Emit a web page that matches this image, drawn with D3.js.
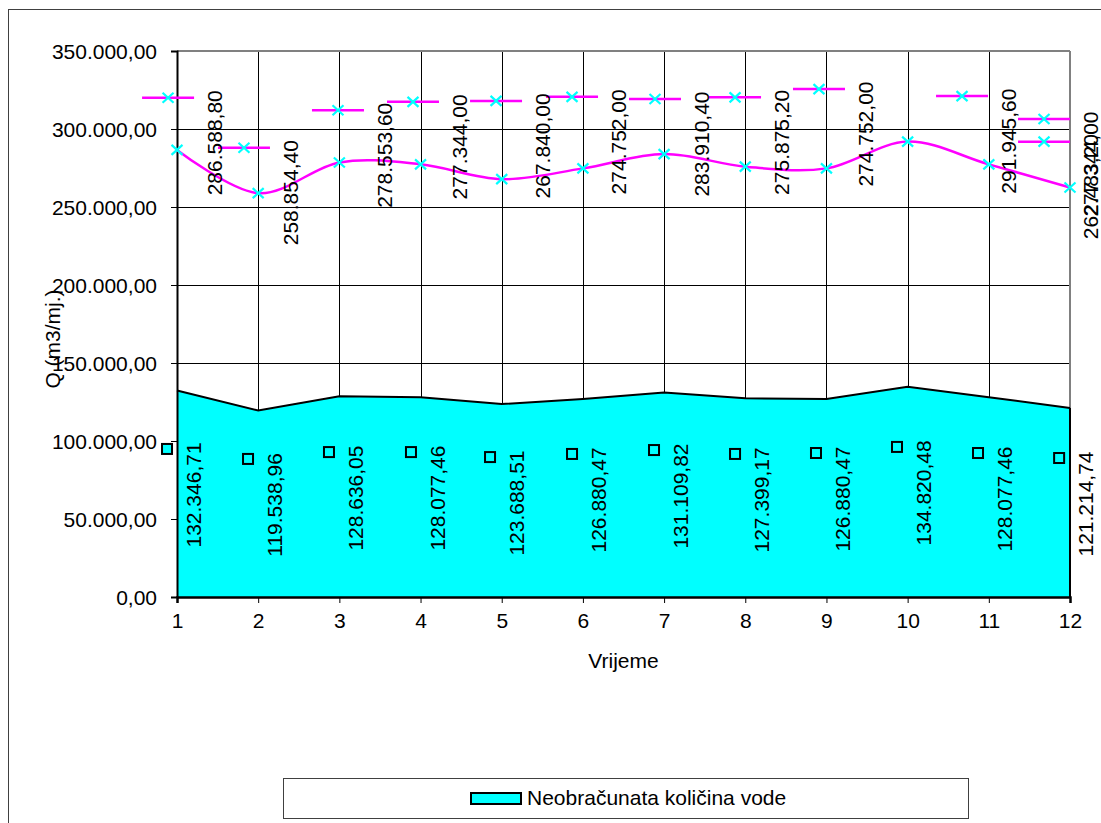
<!DOCTYPE html>
<html><head><meta charset="utf-8">
<script src="https://cdn.jsdelivr.net/npm/d3@7"></script>
<style>
html,body{margin:0;padding:0;background:#fff;}
text{font-family:"Liberation Sans",Arial,sans-serif;}
</style>
</head><body>
<svg id="chart" width="1101" height="823"></svg>
<script>
// ---- data ----
const categories = [1,2,3,4,5,6,7,8,9,10,11,12];
const yTickValues = [0,50000,100000,150000,200000,250000,300000,350000];
// area series: Neobračunata količina vode
const areaValues = [132346.71,119538.96,128636.05,128077.46,123688.51,126880.47,131109.82,127399.17,126880.47,134820.48,128077.46,121214.74];
// smoothed line series (magenta, cyan x markers)
const lineValues = [286588.80,258854.40,278553.60,277344.00,267840.00,274752.00,283910.40,275875.20,274752.00,291945.60,277344.00,262483.20];
// short horizontal dash series (category position, value)
const dashX = [0.89,1.825,2.983,3.907,4.93,5.866,6.888,7.874,8.908,10.67,11.68,11.68];
const dashValues = [320000,288000,312000,317400,318000,320600,319200,320300,325600,321100,306400,291900];
// square markers (category position, value)
const squareX = [0.877,1.875,2.872,3.882,4.856,5.866,6.876,7.874,8.871,9.869,10.867,11.866];
const squareValues = [94900,88500,92900,92900,89700,91700,94200,91700,92300,96200,92300,89100];
const legendLabel = "Neobračunata količina vode";
const xTitle = "Vrijeme";
const yTitle = "Q (m3/mj.)";

// ---- formatting ----
const fmtLocale = d3.formatLocale({decimal:",",thousands:".",grouping:[3],currency:["",""]});
const fmt = fmtLocale.format(",.2f");

const svg = d3.select("#chart");
const FONT = 21;
const x = d3.scaleLinear().domain([1,12]).range([177,1070]);
const y = d3.scaleLinear().domain([0,350000]).range([597,51]);

// outer chart frame
svg.append("rect").attr("x",8.5).attr("y",9.5).attr("width",1200).attr("height",1000)
  .attr("fill","none").attr("stroke","#404040").attr("stroke-width",1);

// gridlines
const g = svg.append("g");
g.selectAll("line.hg").data(yTickValues.slice(1,-1)).join("line")
  .attr("x1",x(1)).attr("x2",x(12)).attr("y1",d=>Math.round(y(d))+0.5).attr("y2",d=>Math.round(y(d))+0.5)
  .attr("stroke","#000").attr("stroke-width",1);
g.selectAll("line.vg").data(categories.slice(1,-1)).join("line")
  .attr("y1",y(350000)).attr("y2",y(0)).attr("x1",d=>Math.round(x(d))+0.5).attr("x2",d=>Math.round(x(d))+0.5)
  .attr("stroke","#000").attr("stroke-width",1);
// plot border top/right gray
svg.append("line").attr("x1",x(1)).attr("x2",x(12)).attr("y1",y(350000)).attr("y2",y(350000))
  .attr("stroke","#808080").attr("stroke-width",2);
svg.append("line").attr("x1",x(12)).attr("x2",x(12)).attr("y1",y(350000)).attr("y2",y(0))
  .attr("stroke","#808080").attr("stroke-width",2);

// area
const area = d3.area().x((d,i)=>x(categories[i])).y0(y(0)).y1(d=>y(d));
svg.append("path").datum(areaValues).attr("d",area).attr("fill","#00FFFF").attr("stroke","none");
svg.append("path").datum(areaValues)
  .attr("d",d3.line().x((d,i)=>x(categories[i])).y(d=>y(d)))
  .attr("fill","none").attr("stroke","#000").attr("stroke-width",2);
svg.append("line").attr("x1",x(12)).attr("x2",x(12)).attr("y1",y(areaValues[11])).attr("y2",y(0))
  .attr("stroke","#000").attr("stroke-width",2);

// axes
const yAxis = d3.axisLeft(y).tickValues(yTickValues).tickSize(6).tickFormat(d=>fmt(d));
const ya = svg.append("g").attr("transform",`translate(${x(1)},0)`).call(yAxis);
ya.select(".domain").attr("stroke","#000").attr("stroke-width",2);
ya.selectAll(".tick line").attr("stroke","#000");
ya.selectAll(".tick text").attr("font-size",FONT).attr("fill","#000").attr("x",-20).attr("dy","0.36em")
  .style("font-family","Liberation Sans, Arial, sans-serif");

const xAxis = d3.axisBottom(x).tickValues(categories).tickSize(6).tickFormat(d=>d);
const xa = svg.append("g").attr("transform",`translate(0,${y(0)})`).call(xAxis);
xa.select(".domain").attr("stroke","#000").attr("stroke-width",2.5);
xa.selectAll(".tick line").attr("stroke","#000");
xa.selectAll(".tick text").attr("font-size",FONT).attr("fill","#000").attr("y",16).attr("dy","0.71em")
  .style("font-family","Liberation Sans, Arial, sans-serif");

// square markers
svg.selectAll("rect.sq").data(squareValues).join("rect")
  .attr("x",(d,i)=>x(squareX[i])-5).attr("y",d=>y(d)-5).attr("width",10).attr("height",10)
  .attr("fill","#00FFFF").attr("stroke","#000").attr("stroke-width",2);
// area value labels
svg.selectAll("text.al").data(areaValues).join("text")
  .attr("transform",(d,i)=>`translate(${x(squareX[i])+26},${y(squareValues[i])+46}) rotate(-90)`)
  .attr("text-anchor","middle").attr("dy","0.36em").attr("font-size",FONT).attr("fill","#000")
  .text(d=>fmt(d));

// smooth line
svg.append("path").datum(lineValues)
  .attr("d",d3.line().x((d,i)=>x(categories[i])).y(d=>y(d)).curve(d3.curveCardinal.tension(0)))
  .attr("fill","none").attr("stroke","#FF00FF").attr("stroke-width",2.5);

// dashes
svg.selectAll("line.dash").data(dashValues).join("line")
  .attr("x1",(d,i)=>x(dashX[i])-26).attr("x2",(d,i)=>x(dashX[i])+26)
  .attr("y1",d=>y(d)).attr("y2",d=>y(d))
  .attr("stroke","#FF00FF").attr("stroke-width",2.5);

// x markers
function xMark(sel, px, py){
  sel.append("path").attr("d",`M${px-5.5},${py-5}L${px+5.5},${py+5}M${px-5.5},${py+5}L${px+5.5},${py-5}`)
    .attr("stroke","#00FFFF").attr("stroke-width",2.2).attr("fill","none");
}
const mk = svg.append("g");
lineValues.forEach((v,i)=>xMark(mk, x(categories[i]), y(v)));
dashValues.forEach((v,i)=>xMark(mk, x(dashX[i]), y(v)));

// line value labels
svg.selectAll("text.ll").data(lineValues).join("text")
  .attr("transform",(d,i)=>`translate(${x(dashX[i])+46},${y(dashValues[i])+45}) rotate(-90)`)
  .attr("text-anchor","middle").attr("dy","0.36em").attr("font-size",FONT).attr("fill","#000")
  .text(d=>fmt(d));

// titles
svg.append("text").attr("x",(x(1)+x(12))/2).attr("y",668).attr("text-anchor","middle")
  .attr("font-size",FONT).attr("fill","#000").text(xTitle);
svg.append("text").attr("transform","translate(52,339) rotate(-90)").attr("text-anchor","middle")
  .attr("dy","0.36em").attr("font-size",FONT).attr("fill","#000").text(yTitle);

// legend
const lg = svg.append("g");
lg.append("rect").attr("x",283.5).attr("y",778.5).attr("width",685).attr("height",40)
  .attr("fill","#fff").attr("stroke","#404040").attr("stroke-width",1);
lg.append("rect").attr("x",471).attr("y",793).attr("width",50).attr("height",11)
  .attr("fill","#00FFFF").attr("stroke","#000").attr("stroke-width",2);
lg.append("text").attr("x",527).attr("y",805).attr("font-size",FONT).attr("fill","#000").text(legendLabel);
</script>
</body></html>
